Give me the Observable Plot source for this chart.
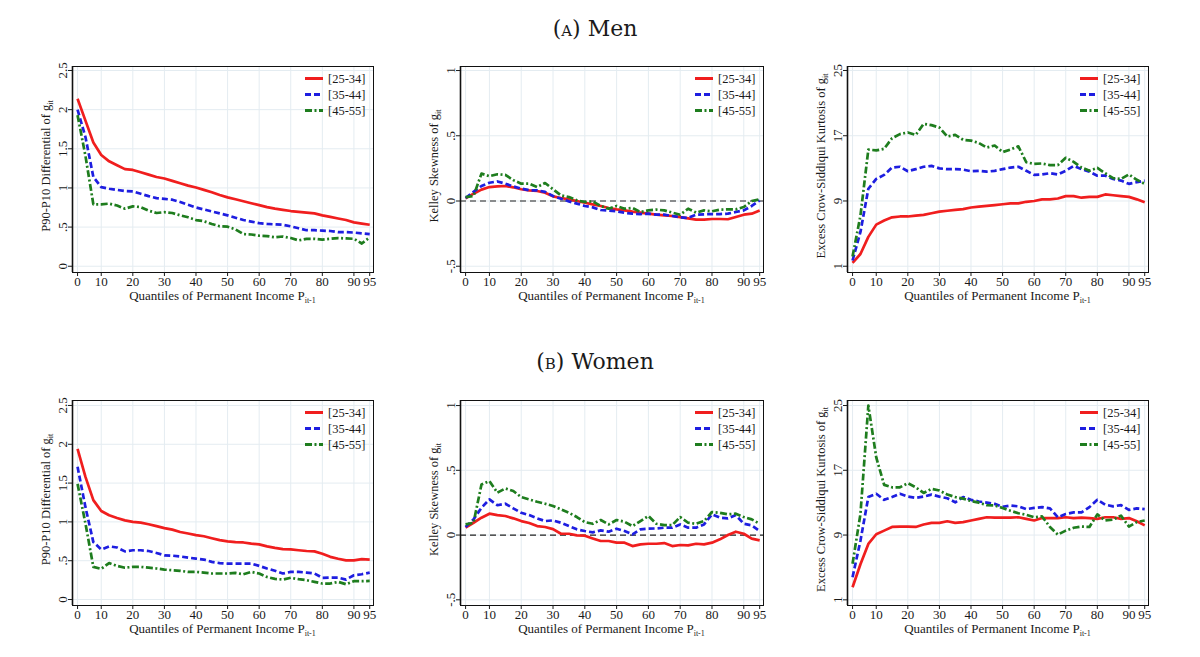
<!DOCTYPE html>
<html><head><meta charset="utf-8">
<script src="https://cdn.jsdelivr.net/npm/d3@7"></script>
<script src="https://cdn.jsdelivr.net/npm/@observablehq/plot@0.6"></script>
<style>
html,body{margin:0;padding:0;background:#fff;}
#page{position:relative;width:1200px;height:657px;overflow:hidden;background:#fff;}
.ptitle{position:absolute;font-family:"DejaVu Serif",serif;font-size:22px;color:#1a1a1a;transform:translateX(-50%);white-space:nowrap;line-height:1;}
.sc{font-variant:small-caps;}
.panel{position:absolute;}
.panel svg text{font-family:"Liberation Serif","Times New Roman",Times,serif;}
</style></head><body><div id="page"></div>
<script>
// ---------- data ----------
const quantiles = [2.5,5,7.5,10,12.5,15,17.5,20,22.5,25,27.5,30,32.5,35,37.5,40,42.5,45,47.5,50,52.5,55,57.5,60,62.5,65,67.5,70,72.5,75,77.5,80,82.5,85,87.5,90,92.5,95];
const xTickValues = [2.5,10,20,30,40,50,60,70,80,90,95];
const xTickLabels = ["0","10","20","30","40","50","60","70","80","90","95"];
const ageGroups = ["[25-34]","[35-44]","[45-55]"];

const menP9010_25 = [2.14,1.86,1.58,1.42,1.34,1.29,1.24,1.23,1.20,1.17,1.14,1.12,1.09,1.06,1.03,1.005,0.975,0.945,0.91,0.88,0.855,0.83,0.805,0.78,0.755,0.735,0.72,0.705,0.695,0.685,0.675,0.65,0.63,0.61,0.59,0.56,0.545,0.53];
const menP9010_35 = [2.0,1.65,1.14,1.01,0.99,0.975,0.96,0.955,0.925,0.895,0.87,0.86,0.85,0.82,0.785,0.75,0.725,0.70,0.675,0.65,0.62,0.59,0.57,0.55,0.54,0.535,0.53,0.51,0.485,0.46,0.46,0.455,0.45,0.435,0.435,0.43,0.42,0.41];
const menP9010_45 = [1.93,1.41,0.79,0.79,0.80,0.775,0.735,0.765,0.755,0.71,0.68,0.69,0.68,0.65,0.625,0.59,0.575,0.54,0.51,0.505,0.47,0.41,0.405,0.39,0.385,0.37,0.38,0.36,0.33,0.35,0.35,0.34,0.35,0.36,0.355,0.35,0.29,0.37];

const menKelley_25 = [0.02,0.056,0.087,0.107,0.112,0.115,0.105,0.09,0.082,0.077,0.064,0.036,0.023,0.013,0,-0.013,-0.026,-0.038,-0.054,-0.064,-0.072,-0.082,-0.089,-0.097,-0.105,-0.11,-0.115,-0.123,-0.133,-0.143,-0.143,-0.138,-0.138,-0.14,-0.123,-0.105,-0.097,-0.072];
const menKelley_35 = [0.023,0.07,0.115,0.14,0.15,0.133,0.112,0.095,0.082,0.082,0.07,0.038,0.018,-0.003,-0.02,-0.038,-0.049,-0.069,-0.074,-0.079,-0.09,-0.097,-0.1,-0.097,-0.105,-0.105,-0.115,-0.125,-0.13,-0.105,-0.102,-0.1,-0.1,-0.097,-0.084,-0.072,-0.038,0.005];
const menKelley_45 = [0.03,0.038,0.21,0.19,0.205,0.2,0.16,0.133,0.133,0.107,0.138,0.09,0.043,0.03,0.005,-0.008,-0.003,-0.038,-0.059,-0.038,-0.059,-0.054,-0.084,-0.072,-0.066,-0.072,-0.089,-0.105,-0.059,-0.089,-0.072,-0.079,-0.066,-0.064,-0.064,-0.046,0,0.013];

const menKurt_25 = [1.4,2.5,4.6,6.1,6.6,7.0,7.1,7.1,7.2,7.3,7.5,7.7,7.8,7.9,8.0,8.2,8.3,8.4,8.5,8.6,8.7,8.7,8.9,9.0,9.2,9.2,9.3,9.6,9.6,9.4,9.5,9.5,9.8,9.7,9.6,9.5,9.2,8.85];
const menKurt_35 = [1.7,5.2,10.5,11.7,12.2,13.1,13.2,12.65,12.9,13.2,13.3,13.0,12.9,12.9,12.85,12.65,12.7,12.6,12.7,12.9,13.1,13.2,12.7,12.2,12.25,12.4,12.25,12.7,13.3,12.9,12.6,12.1,12.1,11.7,11.5,11.1,11.3,11.5];
const menKurt_45 = [2.2,7.2,15.3,15.2,15.4,16.7,17.2,17.4,17.1,18.45,18.3,18.0,16.9,17.1,16.5,16.4,16.1,15.55,15.8,15.0,15.3,15.7,13.75,13.55,13.6,13.4,13.4,14.3,13.8,13.1,12.7,13.05,12.4,11.8,11.7,12.25,11.6,11.1];

const womenP9010_25 = [1.94,1.58,1.28,1.14,1.085,1.05,1.02,1.0,0.99,0.97,0.945,0.92,0.90,0.87,0.85,0.83,0.815,0.79,0.765,0.75,0.74,0.735,0.72,0.71,0.685,0.665,0.65,0.645,0.635,0.625,0.62,0.59,0.55,0.525,0.505,0.505,0.52,0.515];
const womenP9010_35 = [1.71,1.19,0.74,0.645,0.685,0.67,0.62,0.635,0.635,0.625,0.60,0.57,0.565,0.555,0.54,0.527,0.515,0.485,0.47,0.463,0.463,0.463,0.463,0.433,0.40,0.37,0.335,0.356,0.356,0.347,0.335,0.28,0.283,0.283,0.257,0.313,0.326,0.347];
const womenP9010_45 = [1.49,0.98,0.42,0.395,0.47,0.433,0.41,0.42,0.42,0.41,0.40,0.386,0.377,0.37,0.356,0.356,0.347,0.335,0.335,0.335,0.343,0.326,0.356,0.335,0.29,0.266,0.257,0.28,0.262,0.249,0.227,0.206,0.206,0.227,0.197,0.236,0.236,0.24];

const womenKelley_25 = [0.057,0.095,0.134,0.165,0.154,0.147,0.129,0.108,0.093,0.069,0.062,0.046,0.01,0.01,-0.003,-0.005,-0.026,-0.046,-0.046,-0.059,-0.059,-0.085,-0.072,-0.067,-0.067,-0.062,-0.085,-0.077,-0.08,-0.067,-0.072,-0.059,-0.033,0,0.026,0.01,-0.028,-0.041];
const womenKelley_35 = [0.062,0.121,0.211,0.275,0.23,0.242,0.206,0.172,0.154,0.129,0.108,0.113,0.095,0.069,0.044,0.031,0.021,0.036,0.026,0.049,0.031,0.005,0.044,0.049,0.051,0.057,0.057,0.082,0.057,0.057,0.082,0.16,0.134,0.129,0.154,0.087,0.075,0.031];
const womenKelley_45 = [0.082,0.095,0.39,0.417,0.327,0.36,0.34,0.293,0.275,0.257,0.242,0.224,0.198,0.172,0.139,0.1,0.087,0.116,0.082,0.116,0.103,0.069,0.108,0.147,0.087,0.077,0.077,0.139,0.095,0.087,0.108,0.178,0.172,0.16,0.165,0.139,0.121,0.087];

const womenKurt_25 = [2.55,5.4,7.9,9.1,9.55,10.0,10.05,10.05,10.0,10.3,10.5,10.5,10.7,10.5,10.6,10.8,11.0,11.2,11.15,11.15,11.15,11.2,11.0,10.8,11.1,11.1,11.1,11.2,11.1,11.15,11.1,11.0,11.2,11.2,11.0,11.1,10.7,10.2];
const womenKurt_35 = [3.8,8.3,13.7,14.1,13.35,13.7,14.1,13.75,13.6,13.75,14.0,13.75,13.55,13.05,13.7,13.35,13.15,13.0,12.85,12.5,12.65,12.55,12.2,12.35,12.45,12.3,11.2,11.6,11.8,11.8,12.45,13.35,12.75,12.55,12.7,12.1,12.3,12.2];
const womenKurt_45 = [5.45,11.6,25.0,18.6,15.2,14.9,14.9,15.4,14.9,14.2,14.7,14.5,14.0,13.7,13.5,13.2,13.0,12.7,12.65,12.35,12.0,11.7,11.5,11.2,11.3,10.0,9.05,9.55,9.9,10.05,10.0,11.55,10.8,10.9,11.4,10.05,10.6,10.8];

const p9010Ticks = [0,0.5,1,1.5,2,2.5];
const p9010Labels = ["0",".5","1","1.5","2","2.5"];
const kelleyTicks = [-0.5,0,0.5,1];
const kelleyLabels = ["-.5","0",".5","1"];
const kurtTicks = [1,9,17,25];
const kurtLabels = ["1","9","17","25"];

const panelTitles = [["A","Men"],["B","Women"]];
const yTitles = ["P90-P10 Differential of g","Kelley Skewness of g","Excess Crow-Siddiqui Kurtosis of g"];
const xTitle = "Quantiles of Permanent Income P";

// ---------- styles / layout ----------
const colors = ["#f01e1e","#1e1ee0","#1e7d1e"];
const dashes = [null,"6,3","7,2.5,2,2.5"];
const gridColor = "#e4ecf1";
const colLeft = [72,460,847], colRight = [373,763,1148];
const rowTop = [66,400], rowBottom = [272,605];
const titleBaseline = [35,368];

const panels = [
  {row:0,col:0,series:[menP9010_25,menP9010_35,menP9010_45],yDomain:[-0.08,2.551],ticks:p9010Ticks,labels:p9010Labels},
  {row:0,col:1,series:[menKelley_25,menKelley_35,menKelley_45],yDomain:[-0.548,1.031],ticks:kelleyTicks,labels:kelleyLabels,zero:true},
  {row:0,col:2,series:[menKurt_25,menKurt_35,menKurt_45],yDomain:[0.23,25.49],ticks:kurtTicks,labels:kurtLabels},
  {row:1,col:0,series:[womenP9010_25,womenP9010_35,womenP9010_45],yDomain:[-0.077,2.564],ticks:p9010Ticks,labels:p9010Labels},
  {row:1,col:1,series:[womenKelley_25,womenKelley_35,womenKelley_45],yDomain:[-0.544,1.039],ticks:kelleyTicks,labels:kelleyLabels,zero:true},
  {row:1,col:2,series:[womenKurt_25,womenKurt_35,womenKurt_45],yDomain:[0.3,25.62],ticks:kurtTicks,labels:kurtLabels}
];

const page = document.getElementById("page");
panelTitles.forEach(([letter, word], r) => {
  const d = document.createElement("div");
  d.className = "ptitle";
  d.innerHTML = `(<span class="sc">${letter.toLowerCase()}</span>) ${word}`;
  d.style.left = "595px";
  d.style.top = (titleBaseline[r] - 17) + "px";
  page.appendChild(d);
});

const xLabelMap = new Map(xTickValues.map((v,i)=>[v,xTickLabels[i]]));
const font = "'Liberation Serif','Times New Roman',Times,serif";

panels.forEach(p => {
  const fl = colLeft[p.col], fr = colRight[p.col], ft = rowTop[p.row], fb = rowBottom[p.row];
  const mL = 60, mR = 6, mT = 6, mB = 46;
  const fw = fr - fl, fh = fb - ft;
  const width = fw + mL + mR, height = fh + mT + mB;
  const yMap = new Map(p.ticks.map((v,i)=>[v,p.labels[i]]));
  const marks = [
    Plot.gridX(xTickValues, {stroke: gridColor, strokeOpacity: 1, strokeWidth: 1}),
    Plot.gridY(p.ticks, {stroke: gridColor, strokeOpacity: 1, strokeWidth: 1})
  ];
  if (p.zero) marks.push(Plot.ruleY([0], {stroke: "#222", strokeWidth: 1.2, strokeDasharray: "6,4"}));
  p.series.forEach((vals, i) => {
    const data = quantiles.map((q, j) => ({x: q, y: vals[j]}));
    marks.push(Plot.line(data, {x: "x", y: "y", stroke: colors[i], strokeWidth: 2.7, strokeDasharray: dashes[i], strokeLinejoin: "round", strokeLinecap: "butt"}));
  });
  marks.push(Plot.frame({stroke: "#111", strokeWidth: 1}));
  marks.push(Plot.ruleX([0.9], {stroke: "#111", strokeWidth: 1.6}));
  marks.push(Plot.axisX(xTickValues, {tickFormat: d => xLabelMap.get(d), tickSize: 4, tickPadding: 0, label: null, fontSize: 13}));
  marks.push(Plot.axisY(p.ticks, {tickFormat: d => yMap.get(d), tickRotate: -90, tickSize: 4, tickPadding: 2, label: null, fontSize: 13}));

  const svg = Plot.plot({
    width, height, marginLeft: mL, marginRight: mR, marginTop: mT, marginBottom: mB,
    x: {domain: [0.9, 96.2]},
    y: {domain: p.yDomain},
    style: {fontFamily: font, fontSize: "13px", color: "#1a1a1a", background: "transparent", overflow: "visible"},
    marks
  });
  const s = d3.select(svg);
  // x title
  const xt = s.append("text").attr("x", mL + fw/2).attr("y", mT + fh + 27.5)
    .attr("text-anchor","middle").style("font-family",font).attr("font-size",13).attr("fill","#1a1a1a");
  xt.append("tspan").text(xTitle);
  xt.append("tspan").attr("font-size",8).attr("dy",3).text("it-1");
  // y title
  const yt = s.append("text").attr("transform",`translate(${mL-22},${mT+fh/2-3}) rotate(-90)`)
    .attr("text-anchor","middle").style("font-family",font).attr("font-size",12.5).attr("fill","#1a1a1a");
  yt.append("tspan").text(yTitles[p.col]);
  yt.append("tspan").attr("font-size",8).attr("dy",2.5).text("it");
  // legend
  ageGroups.forEach((g, i) => {
    const yy = mT + 12.5 + 16*i;
    s.append("line").attr("x1", mL+fw-68).attr("x2", mL+fw-50).attr("y1", yy).attr("y2", yy)
      .attr("stroke", colors[i]).attr("stroke-width", 3).attr("stroke-dasharray", dashes[i] || null);
    s.append("text").attr("x", mL+fw-45).attr("y", yy+4.5).attr("text-anchor","start").style("font-family",font).attr("font-size",12.5)
      .attr("fill","#1a1a1a").text(g);
  });
  const wrap = document.createElement("div");
  wrap.className = "panel";
  wrap.style.left = (fl - mL) + "px";
  wrap.style.top = (ft - mT) + "px";
  wrap.appendChild(svg);
  page.appendChild(wrap);
});
</script>
</body></html>
